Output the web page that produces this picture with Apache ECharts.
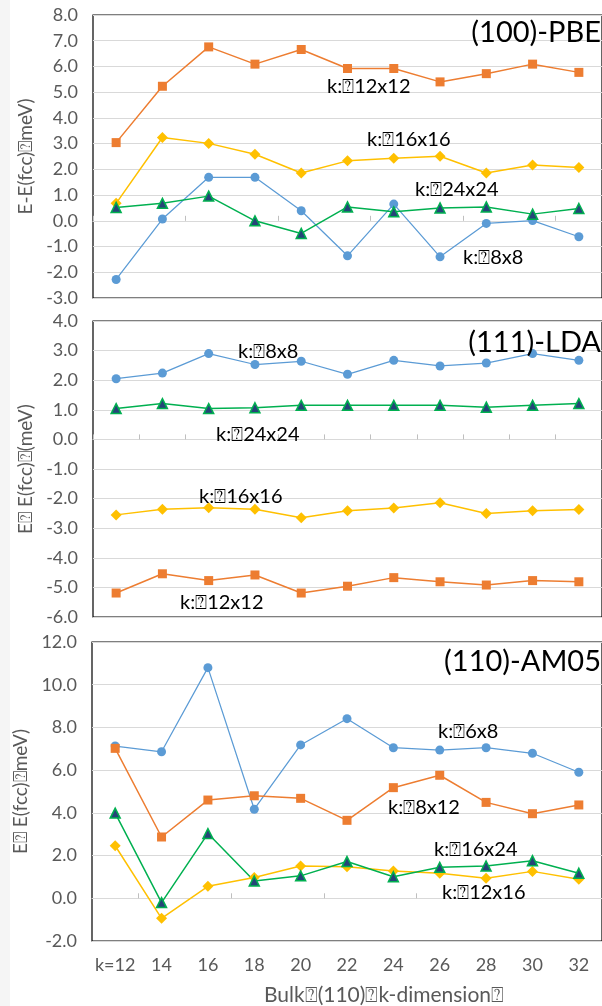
<!DOCTYPE html>
<html lang="en">
<head>
<meta charset="UTF-8">
<title>k-point convergence</title>
<style>
  html, body { margin: 0; padding: 0; background: #fff; }
  #main { width: 602px; height: 1006px; }
</style>
</head>
<body>
<div id="main"></div>
<script src="https://cdn.jsdelivr.net/npm/echarts@6/dist/echarts.min.js"></script>
<script>
const kLabels = ['k=12', '14', '16', '18', '20', '22', '24', '26', '28', '30', '32'];

// (100)-PBE
const pbe8x8   = [-2.28, 0.07, 1.69, 1.69, 0.39, -1.36, 0.65, -1.40, -0.10, 0.01, -0.62];
const pbe12x12 = [3.04, 5.23, 6.76, 6.09, 6.66, 5.92, 5.92, 5.40, 5.72, 6.09, 5.77];
const pbe16x16 = [0.68, 3.24, 3.01, 2.59, 1.86, 2.33, 2.43, 2.51, 1.86, 2.17, 2.07];
const pbe24x24 = [0.52, 0.68, 0.96, 0.00, -0.49, 0.54, 0.35, 0.50, 0.54, 0.26, 0.48];

// (111)-LDA
const lda8x8   = [2.05, 2.24, 2.90, 2.53, 2.64, 2.20, 2.67, 2.48, 2.58, 2.90, 2.67];
const lda12x12 = [-5.19, -4.54, -4.77, -4.58, -5.19, -4.96, -4.67, -4.81, -4.92, -4.77, -4.81];
const lda16x16 = [-2.55, -2.36, -2.31, -2.36, -2.65, -2.41, -2.32, -2.14, -2.50, -2.41, -2.37];
const lda24x24 = [1.04, 1.21, 1.04, 1.07, 1.15, 1.15, 1.15, 1.15, 1.09, 1.15, 1.21];

// (110)-AM05
const am6x8   = [7.13, 6.86, 10.80, 4.17, 7.18, 8.41, 7.05, 6.94, 7.05, 6.79, 5.90];
const am8x12  = [7.02, 2.87, 4.60, 4.80, 4.68, 3.65, 5.18, 5.76, 4.49, 3.96, 4.37];
const am12x16 = [2.46, -0.94, 0.56, 0.97, 1.51, 1.48, 1.28, 1.17, 0.94, 1.26, 0.89];
const am16x24 = [3.99, -0.20, 3.03, 0.81, 1.05, 1.72, 1.01, 1.45, 1.51, 1.76, 1.17];

const FONT = 'Lato';
const BLUE = '#5B9BD5', ORANGE = '#ED7D31', YELLOW = '#FFC000', GREEN = '#00B050', NAVY = '#264478';

var chart = echarts.init(document.getElementById('main'), null, { renderer: 'canvas' });

const grids = [
  { left: 93, right: -10, top: 15, height: 283 },
  { left: 93, right: -10, top: 321, height: 296 },
  { left: 92, right: -10, top: 642, height: 299 }
];

function zeroAxis(gi, tickFn) {
  return {
    type: 'category', gridIndex: gi, data: kLabels, boundaryGap: true,
    axisLine: { onZero: true, lineStyle: { color: '#d9d9d9', width: 1 } },
    axisTick: { show: true, inside: true, length: 5, interval: tickFn, lineStyle: { color: '#bfbfbf' } },
    axisLabel: { show: false },
    splitLine: { show: false }
  };
}

function yAx(gi, min, max, step, name) {
  return {
    type: 'value', gridIndex: gi, min: min, max: max, interval: step,
    name: name, nameLocation: 'middle', nameGap: 52, nameRotate: 90,
    nameTextStyle: { color: '#595959', fontSize: 19, fontFamily: FONT },
    axisLine: { show: false }, axisTick: { show: false },
    axisLabel: { color: '#595959', fontSize: 18, fontFamily: FONT, margin: 15, formatter: v => v.toFixed(1) },
    splitLine: { lineStyle: { color: '#d9d9d9', width: 1 } }
  };
}

function line(name, data, color, symbol, gi, opts) {
  opts = opts || {};
  return {
    name: name, type: 'line', data: data, xAxisIndex: gi, yAxisIndex: gi,
    symbol: symbol, symbolSize: opts.size || 9, showSymbol: true,
    lineStyle: { color: color, width: opts.width || 1.5 },
    itemStyle: { color: opts.fill || color, borderColor: opts.border || color, borderWidth: opts.border ? 1.5 : 0 },
    animation: false, z: opts.z || 2
  };
}

function label(text, x, y) {
  return {
    type: 'text', x: x, y: y, z: 100,
    style: { text: text, font: '20px ' + FONT, fill: '#000', textVerticalAlign: 'middle' }
  };
}

function title(text, xRight, y) {
  return {
    type: 'text', x: xRight, y: y, z: 100,
    style: { text: text, font: '29px ' + FONT, fill: '#000', textAlign: 'right', textVerticalAlign: 'middle' }
  };
}

var option = {
  backgroundColor: '#fff',
  animation: false,
  grid: grids.map(g => Object.assign({ show: true, borderColor: '#000', borderWidth: 1.2, backgroundColor: 'transparent' }, g)),
  xAxis: [
    zeroAxis(0, i => i % 2 === 0),
    zeroAxis(1, () => true),
    zeroAxis(2, i => i % 2 === 1),
    {
      type: 'category', gridIndex: 2, data: kLabels, position: 'bottom',
      axisLine: { show: false, onZero: false }, axisTick: { show: false },
      axisLabel: { interval: 0, color: '#595959', fontSize: 18, fontFamily: FONT, margin: 15 }
    }
  ],
  yAxis: [
    yAx(0, -3, 8, 1, 'E-E(fcc)\u2370meV)'),
    yAx(1, -6, 4, 1, 'E\u2370 E(fcc)\u2370(meV)'),
    yAx(2, -2, 12, 2, 'E\u2370 E(fcc)\u2370meV)')
  ],
  series: [
    line('8x8', pbe8x8, BLUE, 'circle', 0, { width: 1.25 }),
    line('12x12', pbe12x12, ORANGE, 'rect', 0),
    line('16x16', pbe16x16, YELLOW, 'diamond', 0, { size: 11 }),
    line('24x24', pbe24x24, GREEN, 'triangle', 0, { size: 10, fill: NAVY, border: GREEN }),

    line('8x8', lda8x8, BLUE, 'circle', 1, { width: 1.25 }),
    line('12x12', lda12x12, ORANGE, 'rect', 1),
    line('16x16', lda16x16, YELLOW, 'diamond', 1, { size: 11 }),
    line('24x24', lda24x24, GREEN, 'triangle', 1, { size: 10, fill: NAVY, border: GREEN }),

    line('6x8', am6x8, BLUE, 'circle', 2, { width: 1.25 }),
    line('8x12', am8x12, ORANGE, 'rect', 2),
    line('12x16', am12x16, YELLOW, 'diamond', 2, { size: 11 }),
    line('16x24', am16x24, GREEN, 'triangle', 2, { size: 10, fill: NAVY, border: GREEN })
  ],
  graphic: [
    { type: 'rect', shape: { x: 0, y: 0, width: 10, height: 1006 }, style: { fill: '#f5f5f5' }, z: -1 },
    title('(100)-PBE', 601, 33),
    title('(111)-LDA', 601, 343),
    title('(110)-AM05', 601, 662),
    label('k:\u237012x12', 327, 87),
    label('k:\u237016x16', 367, 140),
    label('k:\u237024x24', 415, 190),
    label('k:\u23708x8', 463, 258),
    label('k:\u23708x8', 238, 352),
    label('k:\u237024x24', 216, 435),
    label('k:\u237016x16', 199, 497),
    label('k:\u237012x12', 180, 603),
    label('k:\u23706x8', 438, 732),
    label('k:\u23708x12', 388, 808),
    label('k:\u237016x24', 434, 850),
    label('k:\u237012x16', 442, 893),
    {
      type: 'text', x: 384, y: 995, z: 100,
      style: { text: 'Bulk\u2370(110)\u2370k-dimension\u2370', font: '21px ' + FONT, fill: '#595959', textAlign: 'center', textVerticalAlign: 'middle' }
    }
  ]
};

option && chart.setOption(option);
</script>
</body>
</html>
